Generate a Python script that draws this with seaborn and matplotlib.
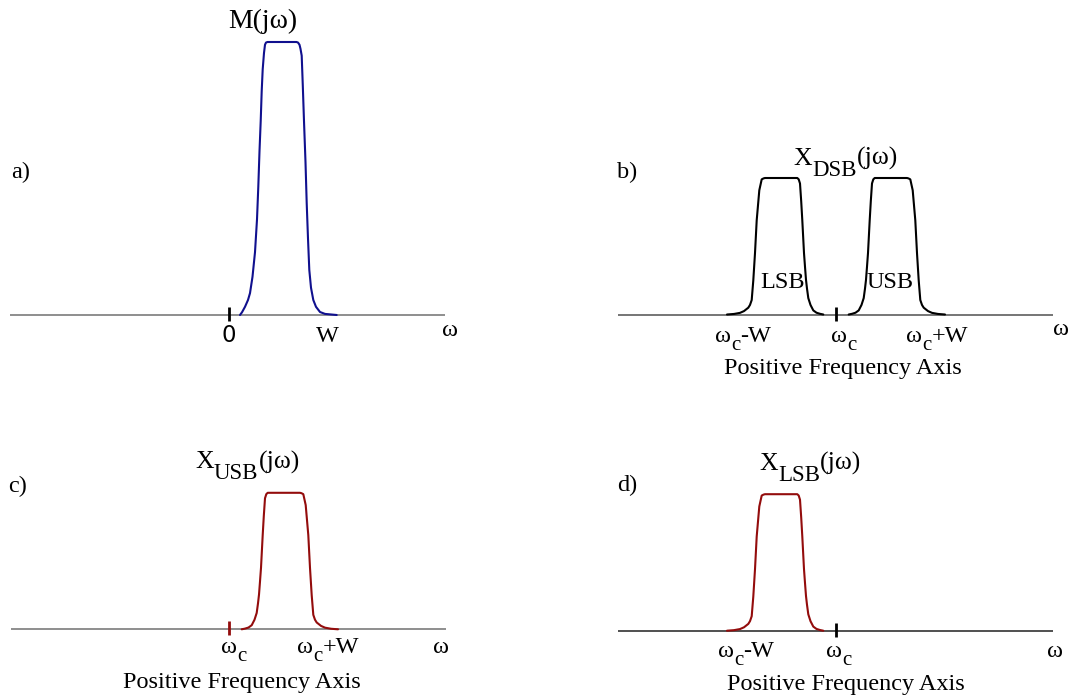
import matplotlib
matplotlib.use("Agg")
import matplotlib.pyplot as plt
import seaborn as sns
import pandas as pd

# Message pulse: x in units of W from the origin, y relative to the peak
msg_x = [0.11, 0.13, 0.16, 0.19, 0.21, 0.235, 0.26, 0.28, 0.293, 0.305, 0.317, 0.327,
         0.337, 0.35, 0.36, 0.37, 0.385, 0.675, 0.69, 0.705, 0.715, 0.727, 0.738, 0.75,
         0.765, 0.777, 0.79, 0.803, 0.82, 0.843, 0.87, 0.91, 0.96, 1.077]
msg_y = [0.0, 0.01, 0.03, 0.055, 0.08, 0.14, 0.23, 0.35, 0.47, 0.6, 0.71, 0.82,
         0.90, 0.96, 0.99, 0.998, 1.0, 1.0, 0.998, 0.99, 0.975, 0.95, 0.84, 0.71,
         0.56, 0.41, 0.28, 0.165, 0.10, 0.055, 0.03, 0.011, 0.004, 0.0]

# Upper sideband pulse (offset from the carrier, relative height)
sb_x = [0.127, 0.16, 0.195, 0.227, 0.255, 0.277, 0.29, 0.30, 0.31, 0.32, 0.337, 0.348,
        0.36, 0.373, 0.387, 0.71, 0.725, 0.743, 0.767, 0.78, 0.793, 0.81, 0.827,
        0.843, 0.86, 0.877, 0.92, 0.96, 1.02, 1.09]
sb_y = [0.0, 0.005, 0.013, 0.03, 0.07, 0.12, 0.19, 0.254, 0.35, 0.45, 0.69, 0.83,
        0.96, 0.99, 1.0, 1.0, 0.997, 0.99, 0.91, 0.80, 0.69, 0.45, 0.25,
        0.106, 0.07, 0.05, 0.025, 0.012, 0.004, 0.0]

amp_msg = 1.0
amp_sb = 0.5

# sidebands drawn per panel: +1 upper (right of carrier), -1 lower (mirror image)
sb_b = [-1, 1]
sb_c = [1]
sb_d = [-1]

tick_at = [0]

lab_pos_a = [0, 1]
lab_txt_a = [("0", "", ""), ("W", "", "")]
lab_pos_b = [-1, 0, 1]
lab_txt_b = [("ω", "c", "-W"), ("ω", "c", ""), ("ω", "c", "+W")]
lab_pos_c = [0, 1]
lab_txt_c = [("ω", "c", ""), ("ω", "c", "+W")]
lab_pos_d = [-1, 0]
lab_txt_d = [("ω", "c", "-W"), ("ω", "c", "")]

BLUE = "#10108e"
RED = "#930c0c"

W_PX, H_PX = 1068, 698
XS = 100.0   # px per x unit
YS = 273.0   # px per y unit

sns.set_style("white")
plt.rcParams['font.family'] = 'Liberation Serif'
plt.rcParams['text.color'] = 'black'

FS = 17.5
SUB = 15

fig = plt.figure(figsize=(W_PX / 100, H_PX / 100), dpi=100)
renderer = fig.canvas.get_renderer()


def make_axes(px_left, px_right, px_zero, py_base, py_top, py_bot):
    ax = fig.add_axes([px_left / W_PX, 1 - py_bot / H_PX,
                       (px_right - px_left) / W_PX, (py_bot - py_top) / H_PX])
    ax.set_xlim((px_left - px_zero) / XS, (px_right - px_zero) / XS)
    ax.set_ylim((py_base - py_bot) / YS, (py_base - py_top) / YS)
    ax.axis("off")
    return ax


def draw_panel(ax, shape_x, shape_y, sides, amp, color, base_color, tick_color):
    ax.axhline(0, color=base_color, lw=1.1, zorder=1)
    for s in sides:
        df = pd.DataFrame({"w": [s * x for x in shape_x],
                           "m": [amp * y for y in shape_y]})
        sns.lineplot(data=df, x="w", y="m", ax=ax, color=color, lw=1.5,
                     estimator=None, sort=False, zorder=3)
    ax.vlines(tick_at, -6 / YS, 8 / YS, color=tick_color, lw=2.0, zorder=4)
    ax.axis("off")


def rich(x, y, pieces, ha="center"):
    # pieces: (text, fontsize, drop in px, family)
    objs = []
    for s, size, drop, fam in pieces:
        if not s:
            continue
        t = fig.text(0, 0, s, fontsize=size, va="baseline", ha="left", family=fam,
                     color="black")
        objs.append((t, t.get_window_extent(renderer).width, drop))
    total = sum(w for _, w, _ in objs)
    x0 = x - total / 2 if ha == "center" else x
    for t, w, drop in objs:
        t.set_position((x0 / W_PX, 1 - (y + drop) / H_PX))
        x0 += w


def tick_labels(px_zero, py_base, pos, txt, dxs, drop):
    for p, (m, s, tail), dx in zip(pos, txt, dxs):
        fam = "DejaVu Sans" if m == "0" else "Liberation Serif"
        size = 16.5 if m == "0" else FS
        rich(px_zero + p * XS + dx, py_base + drop,
             [(m, size, 0, fam), (s, SUB, 8, "Liberation Serif"),
              (tail, FS, 0, "Liberation Serif")])


def title(x, y, main, sub, tail):
    rich(x, y, [(main, 18.5, 0, "Liberation Serif"), (sub, 16.5, 11, "Liberation Serif"),
                (tail, 18.5, 0, "Liberation Serif")])


def ftext(x, y, s, ha="center", size=FS):
    fig.text(x / W_PX, 1 - y / H_PX, s, ha=ha, va="baseline", fontsize=size,
             color="black")


# a) message spectrum
ax_a = make_axes(10, 445, 229, 315, 5, 420)
draw_panel(ax_a, msg_x, msg_y, [1], amp_msg, BLUE, "#707070", "black")
tick_labels(229, 315, lab_pos_a, lab_txt_a, [0, -2], 26.7)
ftext(442, 336, "ω", ha="left")
ftext(263, 28.5, "M(jω)", size=20)
ftext(11, 178, "a)", ha="left")

# b) double sideband
ax_b = make_axes(618, 1053, 836, 314.5, 130, 420)
draw_panel(ax_b, sb_x, sb_y, sb_b, amp_sb, "black", "#505050", "black")
tick_labels(836, 314.5, lab_pos_b, lab_txt_b, [7, 7.5, 1], 27.2)
ftext(1053, 335, "ω", ha="left")
title(846, 165, "X", "DSB", "(jω)")
ftext(617, 178, "b)", ha="left")
ftext(782.5, 288, "LSB")
ftext(890, 288, "USB")
ftext(843, 374, "Positive Frequency Axis")

# c) upper sideband
ax_c = make_axes(11, 446, 229, 629.3, 440, 698)
draw_panel(ax_c, sb_x, sb_y, sb_c, amp_sb, RED, "#707070", RED)
tick_labels(229, 629.3, lab_pos_c, lab_txt_c, [5, -1], 23.7)
ftext(433, 653, "ω", ha="left")
title(247.5, 468.3, "X", "USB", "(jω)")
ftext(8, 492, "c)", ha="left")
ftext(242, 688, "Positive Frequency Axis")

# d) lower sideband
ax_d = make_axes(618, 1053, 836, 630.7, 440, 698)
draw_panel(ax_d, sb_x, sb_y, sb_d, amp_sb, RED, "#202020", "black")
tick_labels(836, 630.7, lab_pos_d, lab_txt_d, [10, 3], 26)
ftext(1047, 656.7, "ω", ha="left")
title(810.5, 470, "X", "LSB", "(jω)")
ftext(617, 491, "d)", ha="left")
ftext(846, 690, "Positive Frequency Axis")

fig.savefig("out.png", dpi=100)
